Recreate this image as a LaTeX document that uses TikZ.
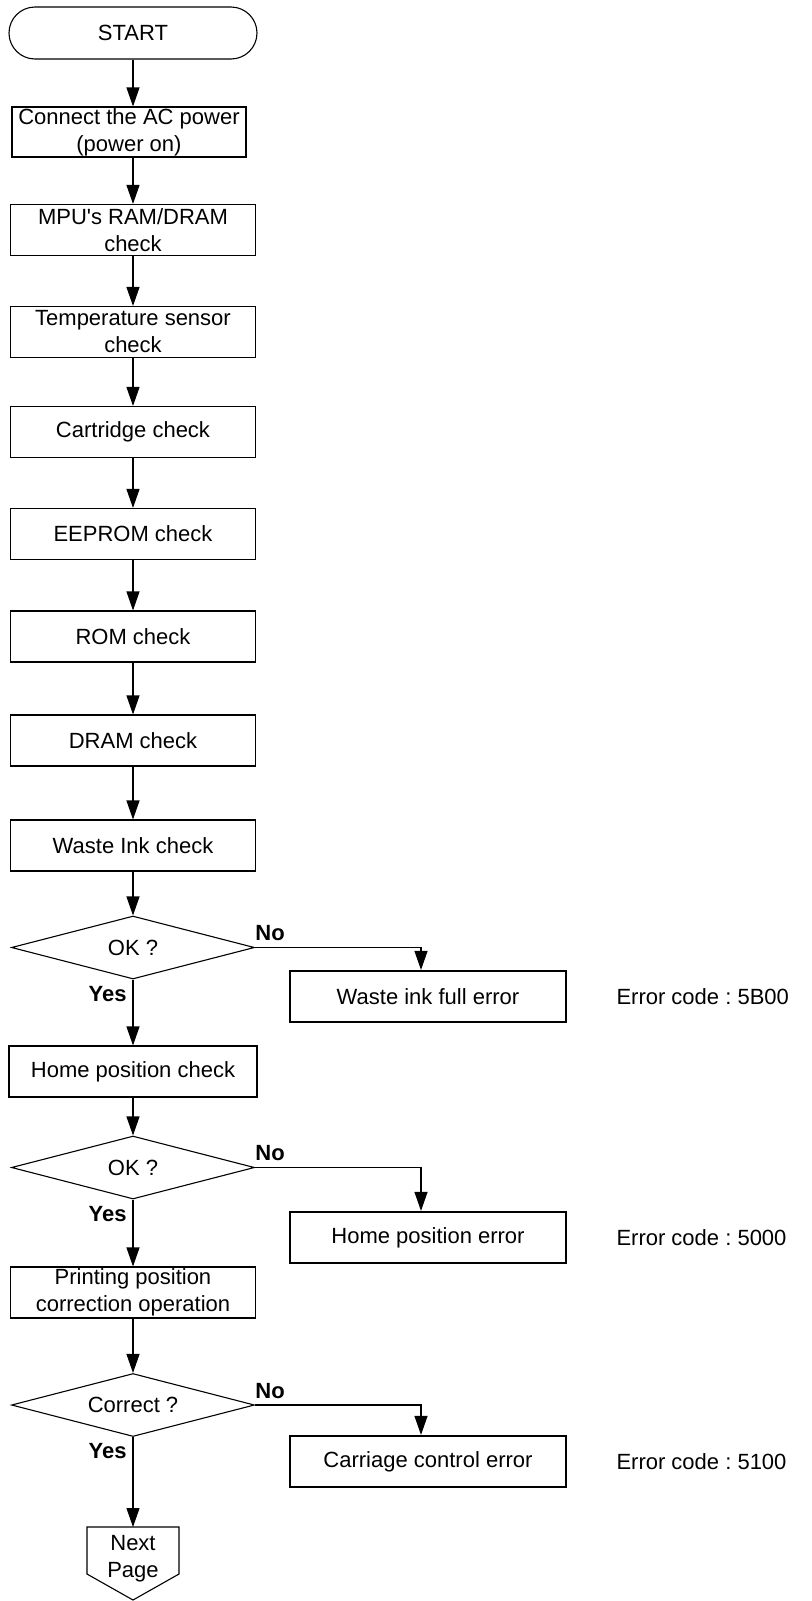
\documentclass[tikz,border=0pt]{standalone}
\usepackage{fontspec}
\setmainfont{Liberation Sans}
\usetikzlibrary{arrows.meta,positioning,shapes.geometric,calc}
\frenchspacing

\begin{document}
\begin{tikzpicture}[
  x=0.5pt, y=-0.5pt,
  font=\fontsize{11}{13.5}\selectfont,
  box/.style={draw, line width=0.55pt, align=center, inner sep=0pt, minimum width=122.5pt, minimum height=25.5pt},
  errbox/.style={draw, line width=1.1pt, align=center, inner sep=0pt, minimum width=138pt, minimum height=25.5pt},
  decision/.style={draw, line width=0.55pt, diamond, aspect=3.86, inner sep=0pt, minimum width=121.5pt, minimum height=31.5pt},
  yesno/.style={font=\fontsize{11}{13.5}\selectfont\bfseries, inner sep=0pt},
  code/.style={inner sep=0pt, right=24.5pt of #1},
  arrow/.style={-{Triangle[length=9.5pt, width=6.5pt]}, line width=0.55pt}
]
\useasboundingbox (0,0) rectangle (812,1601);

\node[box, minimum width=124pt, minimum height=26pt, rounded corners=13pt] (start) at (133,33) {START};
\node[box, minimum width=117pt, minimum height=25pt] (power) at (129,132) {Connect the AC power\\(power on)};
\node[box] (mpu) at (133,230) {MPU\textquotesingle s RAM/DRAM\\check};
\node[box] (temp) at (133,332) {Temperature sensor\\check};
\node[box] (cart) at (133,432) {Cartridge check};
\node[box] (eeprom) at (133,534) {EEPROM check};
\node[box] (rom) at (133,636.5) {ROM check};
\node[box] (dram) at (133,740.5) {DRAM check};
\node[box] (waste) at (133,845.5) {Waste Ink check};
\node[decision] (ok1) at (133,947.5) {OK ?};
\node[box, minimum width=124pt] (home) at (133,1071.5) {Home position check};
\node[decision] (ok2) at (133,1167.5) {OK ?};
\node[box] (printpos) at (133,1292.5) {Printing position\\correction operation};
\node[decision] (okc) at (133,1405) {Correct ?};
\node[align=center, inner sep=0pt] (next) at (133,1558.5) {Next\\Page};
\coordinate (nexttop) at ($(next)+(0,-31.5)$);

% error branch
\node[errbox] (err1) at (428,996.5) {Waste ink full error};
\node[errbox] (err2) at (428,1237.5) {Home position error};
\node[errbox] (err3) at (428,1461.5) {Carriage control error};
\node[code=err1] (code1) {Error code : 5B00};
\node[code=err2] (code2) {Error code : 5000};
\node[code=err3] (code3) {Error code : 5100};

\draw[line width=0.55pt] (nexttop) -- ($(next)+(46,-31.5)$) -- ($(next)+(46,15.5)$) -- ($(next)+(0,41.5)$) -- ($(next)+(-46,15.5)$) -- ($(next)+(-46,-31.5)$) -- cycle;

\draw[arrow] (start.south) -- (start.south |- power.north);
\draw[arrow] (power.south -| mpu.north) -- (mpu.north);
\draw[arrow] (mpu) -- (temp);
\draw[arrow] (temp) -- (cart);
\draw[arrow] (cart) -- (eeprom);
\draw[arrow] (eeprom) -- (rom);
\draw[arrow] (rom) -- (dram);
\draw[arrow] (dram) -- (waste);
\draw[arrow] (waste) -- (ok1);
\draw[arrow] (ok1) -- (home);
\draw[arrow] (home) -- (ok2);
\draw[arrow] (ok2) -- (printpos);
\draw[arrow] (printpos) -- (okc);
\draw[arrow] (okc.south) -- (nexttop);

\draw[arrow] (ok1.east) -| ([xshift=-3.5pt]err1.north);
\draw[arrow] (ok2.east) -| ([xshift=-3.5pt]err2.north);
\draw[arrow] (okc.east) -| ([xshift=-3.5pt]err3.north);

\node[yesno, anchor=south west] (no1) at ([yshift=3pt]ok1.east) {No};
\node[yesno, anchor=south west] (no2) at ([yshift=3pt]ok2.east) {No};
\node[yesno, anchor=south west] (no3) at ([yshift=3pt]okc.east) {No};
\node[yesno, anchor=north east] (yes1) at ([xshift=-3pt,yshift=-3pt]ok1.south) {Yes};
\node[yesno, anchor=north east] (yes2) at ([xshift=-3pt,yshift=-3pt]ok2.south) {Yes};
\node[yesno, anchor=north east] (yes3) at ([xshift=-3pt,yshift=-3pt]okc.south) {Yes};

\end{tikzpicture}
\end{document}
